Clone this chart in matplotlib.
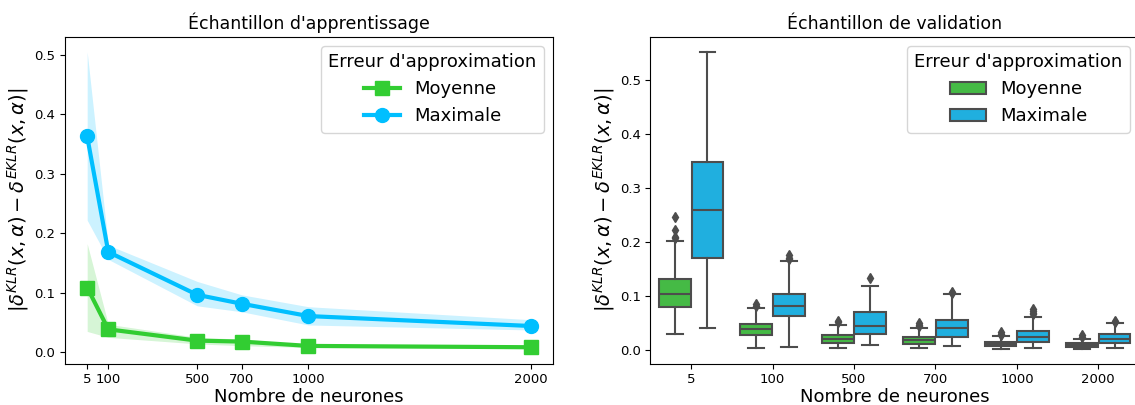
import matplotlib
matplotlib.use("Agg")
import matplotlib.pyplot as plt
from matplotlib.patches import Patch

# ---------------- data ----------------
neurones = [5, 100, 500, 700, 1000, 2000]
neurone_labels = ["5", "100", "500", "700", "1000", "2000"]

# Left panel: training sample
moy_vals = [0.1088, 0.0385, 0.0195, 0.0179, 0.0106, 0.0084]
moy_lo = [0.035, 0.025, 0.014, 0.011, 0.008, 0.006]
moy_hi = [0.1825, 0.047, 0.025, 0.022, 0.013, 0.011]

max_vals = [0.3627, 0.1685, 0.0965, 0.0815, 0.0608, 0.0441]
max_lo = [0.222, 0.156, 0.078, 0.068, 0.0458, 0.0374]
max_hi = [0.505, 0.180, 0.119, 0.0965, 0.0765, 0.0547]

# Right panel: validation sample box statistics (per neurone count)
moy_q1 = [0.080, 0.027, 0.013, 0.0111, 0.0068, 0.0056]
moy_med = [0.103, 0.0377, 0.0204, 0.0173, 0.0105, 0.0093]
moy_q3 = [0.131, 0.047, 0.0266, 0.0241, 0.0142, 0.013]
moy_wlo = [0.0285, 0.0037, 0.0037, 0.0037, 0.002, 0.002]
moy_whi = [0.2017, 0.0767, 0.045, 0.0396, 0.0248, 0.0204]
moy_fliers = [[0.207, 0.210, 0.223, 0.247], [0.081, 0.084], [0.051, 0.054],
              [0.044, 0.046, 0.050], [0.028, 0.030, 0.033], [0.024, 0.0266]]

max_q1 = [0.171, 0.0619, 0.0297, 0.0241, 0.0142, 0.013]
max_med = [0.259, 0.081, 0.0446, 0.0396, 0.0229, 0.0204]
max_q3 = [0.348, 0.1027, 0.0693, 0.0557, 0.034, 0.0285]
max_wlo = [0.040, 0.0056, 0.008, 0.0068, 0.0037, 0.0037]
max_whi = [0.553, 0.1646, 0.118, 0.104, 0.0613, 0.0489]
max_fliers = [[], [0.168, 0.171, 0.175], [0.1324], [0.106, 0.108],
              [0.0656, 0.0687, 0.072, 0.075], [0.051, 0.054]]

series_names = ["Moyenne", "Maximale"]
legend_title = "Erreur d'approximation"
ylabel = r"$|\delta^{KLR}(x,\alpha) - \delta^{EKLR}(x,\alpha)|$"
xlabel = "Nombre de neurones"
titles = ["Échantillon d'apprentissage", "Échantillon de validation"]

# ---------------- styling ----------------
line_green = "#32CD32"
line_blue = "#00BFFF"
box_green = "#45BA45"
box_blue = "#20AFDF"
edge_gray = "#4d4d4d"

W, H = 1135, 405
fig = plt.figure(figsize=(W / 100, H / 100), dpi=100)

bottom = (H - 363.5) / H
height = (363.5 - 37) / H
ax1 = fig.add_axes([65 / W, bottom, (553 - 65) / W, height])
ax2 = fig.add_axes([650.5 / W, bottom, (1139 - 650.5) / W, height])

# ---- left panel ----
ax1.fill_between(neurones, moy_lo, moy_hi, color=line_green, alpha=0.2, linewidth=0)
ax1.fill_between(neurones, max_lo, max_hi, color=line_blue, alpha=0.2, linewidth=0)
ax1.plot(neurones, moy_vals, color=line_green, lw=3, marker="s", ms=10, label=series_names[0])
ax1.plot(neurones, max_vals, color=line_blue, lw=3, marker="o", ms=10, label=series_names[1])
ax1.set_xticks(neurones)
ax1.set_xticklabels(neurone_labels)
ax1.set_yticks([0.0, 0.1, 0.2, 0.3, 0.4, 0.5])
ax1.tick_params(labelsize=9.5)
ax1.set_xlabel(xlabel, fontsize=13, labelpad=1)
ax1.set_ylabel(ylabel, fontsize=14, labelpad=2)
ax1.set_title(titles[0], fontsize=12.5)
ax1.legend(title=legend_title, fontsize=13, title_fontsize=13, loc="upper right")

# ---- right panel ----
def make_stats(q1, med, q3, wlo, whi, fl):
    out = []
    for i in range(len(q1)):
        out.append(dict(q1=q1[i], med=med[i], q3=q3[i], whislo=wlo[i], whishi=whi[i],
                        fliers=fl[i]))
    return out

stats_moy = make_stats(moy_q1, moy_med, moy_q3, moy_wlo, moy_whi, moy_fliers)
stats_max = make_stats(max_q1, max_med, max_q3, max_wlo, max_whi, max_fliers)

cats = list(range(len(neurones)))
for stats, offset, col in [(stats_moy, -0.2, box_green), (stats_max, 0.2, box_blue)]:
    ax2.bxp(stats, positions=[c + offset for c in cats], widths=0.39,
            patch_artist=True, showfliers=True, manage_ticks=False,
            boxprops=dict(facecolor=col, edgecolor=edge_gray, linewidth=1.5),
            medianprops=dict(color=edge_gray, linewidth=1.5),
            whiskerprops=dict(color=edge_gray, linewidth=1.5),
            capprops=dict(color=edge_gray, linewidth=1.5),
            flierprops=dict(marker="d", markerfacecolor=edge_gray, markeredgecolor=edge_gray,
                            markersize=5))
ax2.set_xlim(-0.5, len(neurones) - 0.5)
ax2.set_xticks(cats)
ax2.set_xticklabels(neurone_labels)
ax2.set_yticks([0.0, 0.1, 0.2, 0.3, 0.4, 0.5])
ax2.tick_params(labelsize=9.5)
ax2.set_xlabel(xlabel, fontsize=13, labelpad=1)
ax2.set_ylabel(ylabel, fontsize=14, labelpad=2)
ax2.set_title(titles[1], fontsize=12.5)
handles = [Patch(facecolor=box_green, edgecolor=edge_gray, linewidth=1.5, label=series_names[0]),
           Patch(facecolor=box_blue, edgecolor=edge_gray, linewidth=1.5, label=series_names[1])]
ax2.legend(handles=handles, title=legend_title, fontsize=13, title_fontsize=13, loc="upper right")

fig.savefig("out.png", dpi=100)
